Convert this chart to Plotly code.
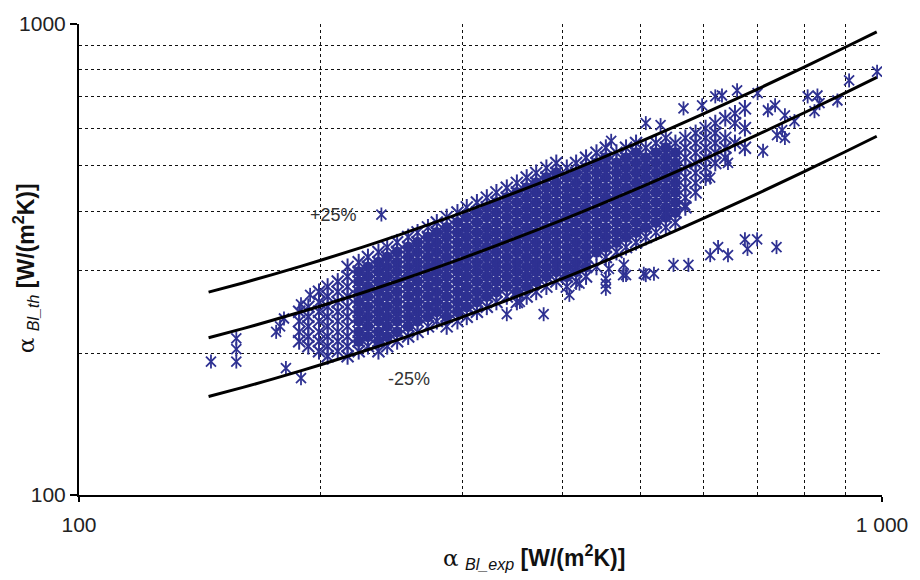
import plotly.graph_objects as go

# ---- data ----
# dense cloud: column x positions and the y values of stars in each column
col_x = [188, 193, 199, 204, 210, 216, 223, 229, 236, 242, 249, 257, 264, 272, 279, 287,
         296, 304, 313, 322, 331, 341, 351, 361, 371, 382, 393, 405, 416, 428, 441, 453,
         467, 480, 494, 508, 523, 538, 553, 569, 586, 603, 620, 638, 656, 675]
col_ys = [
    [245, 234, 222, 212],
    [251, 239, 228, 217, 207],
    [270, 257, 245, 234, 222, 212, 202],
    [277, 264, 251, 239, 228, 217, 207, 197],
    [284, 270, 257, 245, 234, 222, 212, 202],
    [305, 291, 277, 264, 251, 239, 228, 217, 207, 197],
    [312, 298, 284, 270, 257, 245, 234, 222, 212, 202],
    [320, 305, 291, 277, 264, 251, 239, 228, 217, 207],
    [328, 312, 298, 284, 270, 257, 245, 234, 222, 212, 202],
    [336, 320, 305, 291, 277, 264, 251, 239, 228, 217, 207],
    [344, 328, 312, 298, 284, 270, 257, 245, 234, 222, 212],
    [353, 336, 320, 305, 291, 277, 264, 251, 239, 228, 217],
    [361, 344, 328, 312, 298, 284, 270, 257, 245, 234, 222],
    [370, 353, 336, 320, 305, 291, 277, 264, 251, 239, 228],
    [379, 361, 344, 328, 312, 298, 284, 270, 257, 245, 234],
    [389, 370, 353, 336, 320, 305, 291, 277, 264, 251, 239, 228],
    [398, 379, 361, 344, 328, 312, 298, 284, 270, 257, 245, 234],
    [408, 389, 370, 353, 336, 320, 305, 291, 277, 264, 251, 239],
    [418, 398, 379, 361, 344, 328, 312, 298, 284, 270, 257, 245],
    [428, 408, 389, 370, 353, 336, 320, 305, 291, 277, 264, 251],
    [439, 418, 398, 379, 361, 344, 328, 312, 298, 284, 270, 257],
    [449, 428, 408, 389, 370, 353, 336, 320, 305, 291, 277, 264],
    [460, 439, 418, 398, 379, 361, 344, 328, 312, 298, 284, 270, 257],
    [472, 449, 428, 408, 389, 370, 353, 336, 320, 305, 291, 277, 264],
    [483, 460, 439, 418, 398, 379, 361, 344, 328, 312, 298, 284, 270],
    [495, 472, 449, 428, 408, 389, 370, 353, 336, 320, 305, 291, 277],
    [507, 483, 460, 439, 418, 398, 379, 361, 344, 328, 312, 298, 284],
    [495, 472, 449, 428, 408, 389, 370, 353, 336, 320, 305, 291, 277],
    [507, 483, 460, 439, 418, 398, 379, 361, 344, 328, 312, 298, 284],
    [520, 495, 472, 449, 428, 408, 389, 370, 353, 336, 320, 305, 291],
    [533, 507, 483, 460, 439, 418, 398, 379, 361, 344, 328, 305],
    [546, 520, 495, 472, 449, 428, 408, 389, 370, 353, 336, 320],
    [533, 507, 483, 460, 439, 418, 398, 379, 361, 344, 328],
    [546, 520, 495, 472, 449, 428, 408, 389, 370, 353, 336],
    [559, 533, 507, 483, 460, 439, 418, 398, 379, 361, 344],
    [546, 520, 495, 472, 449, 428, 408, 389, 370, 353],
    [559, 533, 507, 483, 460, 439, 418, 398, 379, 361],
    [573, 546, 520, 495, 472, 449, 428, 408, 389, 370],
    [559, 533, 507, 483, 460, 439, 418, 398, 379],
    [573, 546, 520, 495, 472, 449, 428, 408],
    [587, 559, 533, 507, 483, 460, 439],
    [601, 573, 546, 520, 495, 472],
    [616, 587, 559, 533, 507],
    [631, 573, 546, 520],
    [646, 616, 559],
    [662, 601, 546],
]
# columns whose inner part is solid (dense) in the picture
dense_first, dense_last = 6, 38

# scattered stars outside the dense cloud
out_x = [146, 157, 157, 157, 181, 189, 176, 178, 180, 194, 189, 238,
         460, 508, 530, 566, 597, 620, 632, 660, 700, 736, 757, 721, 808, 831, 836, 824,
         880, 910, 986, 778, 751, 740, 757, 711, 643, 611, 569, 538,
         550, 574, 611, 625, 643, 675, 699, 680, 739, 457, 477, 480, 505, 520,
         408, 420, 453, 453, 453, 476, 508, 341, 379, 354]
out_y = [192, 192, 215, 204, 186, 177, 222, 228, 237, 266, 254, 394,
         565, 616, 610, 662, 672, 702, 705, 723, 713, 672, 640, 656, 702, 705, 679, 653,
         688, 759, 792, 622, 595, 581, 573, 538, 507, 472, 412, 394,
         308, 308, 323, 336, 323, 349, 349, 333, 336, 302, 308, 293, 295, 295,
         266, 281, 281, 274, 288, 293, 293, 242, 242, 257]

# fitted curve and +/-25 % band
line_x = [145, 160, 175, 200, 225, 250, 300, 400, 500, 600, 700, 800, 900, 985]
mid_y = [215.7, 225.6, 235.5, 252.0, 268.5, 285.0, 318.0, 384.0, 450.0, 516.0, 582.0, 648.0, 714.0, 770.1]
upper_y = [269.6, 282.0, 294.4, 315.0, 335.6, 356.3, 397.5, 480.0, 562.5, 645.0, 727.5, 810.0, 892.5, 962.6]
lower_y = [161.8, 169.2, 176.6, 189.0, 201.4, 213.8, 238.5, 288.0, 337.5, 387.0, 436.5, 486.0, 535.5, 577.6]

x_ticks = [100, 1000]
x_ticktext = ["100", "1 000"]
y_ticks = [100, 1000]
y_ticktext = ["100", "1000"]
grid_vals = [200, 300, 400, 500, 600, 700, 800, 900]

# ---- build ----
core_x, core_y = [], []
fill_x, fill_y = [], []
for i, (cx, ys) in enumerate(zip(col_x, col_ys)):
    for j, yv in enumerate(ys):
        core_x.append(cx)
        core_y.append(yv)
        if dense_first <= i <= dense_last and 0 < j < len(ys) - 1:
            fill_x.append(cx)
            fill_y.append(yv)

BLUE = "#2E3192"
FONT = "Liberation Sans, Arial, sans-serif"

fig = go.Figure()
fig.add_trace(go.Scatter(
    x=fill_x, y=fill_y, mode="markers", hoverinfo="skip",
    marker=dict(symbol="circle", size=11, color=BLUE, line=dict(width=0)),
))
for px_, py_, size, lw in [(core_x, core_y, 12, 2.0), (out_x, out_y, 10, 1.8)]:
    for sym in ["x-thin-open", "line-ns-open"]:
        fig.add_trace(go.Scatter(
            x=px_, y=py_, mode="markers", hoverinfo="skip",
            marker=dict(symbol=sym, size=size, color=BLUE, line=dict(width=lw, color=BLUE)),
        ))
for ys in [upper_y, mid_y, lower_y]:
    fig.add_trace(go.Scatter(
        x=line_x, y=ys, mode="lines", hoverinfo="skip",
        line=dict(color="black", width=3, shape="spline"),
    ))

axis_common = dict(
    type="log", range=[2, 3],
    ticks="outside", tickcolor="black", tickwidth=1.5,
    showline=True, linecolor="black", linewidth=2,
    showgrid=True, gridcolor="#9a9a9a", gridwidth=2,
    zeroline=False,
    tickfont=dict(family=FONT, size=21, color="#222"),
    minor=dict(tickvals=grid_vals, showgrid=True, gridcolor="#111",
               griddash="dot", gridwidth=1.2, ticks=""),
)
fig.update_xaxes(**axis_common, tickvals=x_ticks, ticktext=x_ticktext, ticklen=5,
                 ticklabelstandoff=5)
fig.update_yaxes(**axis_common, tickvals=y_ticks, ticktext=y_ticktext, ticklen=7)

alpha = '<span style="font-family:DejaVu Serif">α</span>'
fig.add_annotation(
    xref="paper", yref="paper", x=-0.067, y=0.482, xanchor="center", yanchor="middle",
    textangle=-90, showarrow=False,
    text=alpha + " <sub><i>Bl_th</i></sub> <b>[W/(m<sup>2</sup>K)]</b>",
    font=dict(family=FONT, size=23, color="#111"),
)
fig.add_annotation(
    xref="paper", yref="paper", x=0.567, y=-0.131, xanchor="center", yanchor="middle",
    showarrow=False,
    text=alpha + " <sub><i>Bl_exp</i></sub> <b>[W/(m<sup>2</sup>K)]</b>",
    font=dict(family=FONT, size=23, color="#111"),
)
fig.add_annotation(x=2.3166, y=2.5938, text="+25%", showarrow=False,
                   font=dict(family=FONT, size=18, color="#333"))
fig.add_annotation(x=2.4105, y=2.2463, text="-25%", showarrow=False,
                   font=dict(family=FONT, size=18, color="#333"))

fig.update_layout(
    width=920, height=580,
    margin=dict(l=79, r=32, t=20, b=85),
    paper_bgcolor="white", plot_bgcolor="white",
    showlegend=False,
)
fig.write_html("out.html")
